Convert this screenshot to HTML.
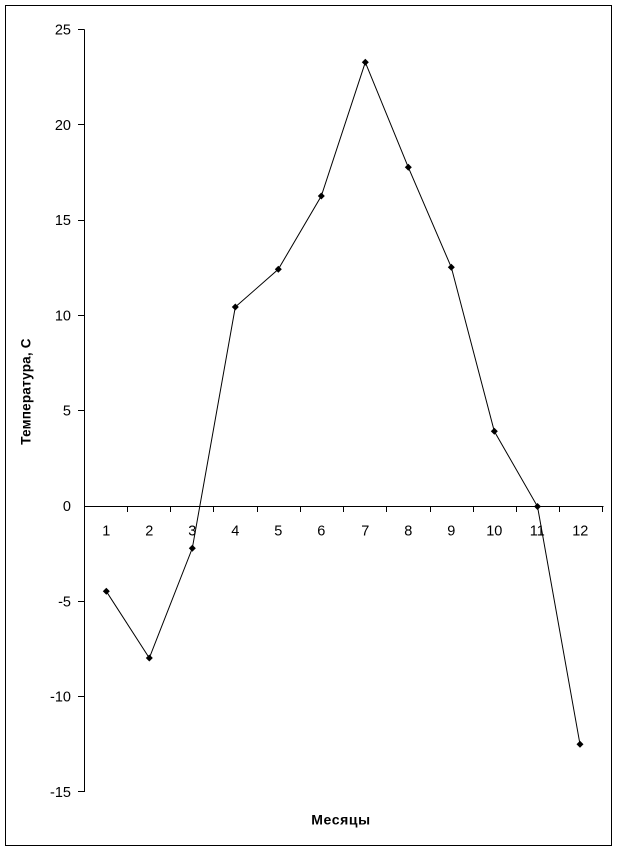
<!DOCTYPE html>
<html><head><meta charset="utf-8"><style>
html,body{margin:0;padding:0;background:#fff;}
svg{display:block;}
text{font-family:"Liberation Sans",Arial,sans-serif;fill:#000;}
</style></head><body>
<svg width="617" height="850" viewBox="0 0 617 850" xmlns="http://www.w3.org/2000/svg">
<rect x="0" y="0" width="617" height="850" fill="#fff"/>
<rect x="5.5" y="5.5" width="606" height="840" fill="none" stroke="#000" stroke-width="1" shape-rendering="crispEdges"/>
<g stroke="#000" stroke-width="1" shape-rendering="crispEdges">
<line x1="84.5" y1="29.5" x2="84.5" y2="792"/>
<line x1="78" y1="29.5" x2="84.5" y2="29.5"/>
<line x1="78" y1="124.5" x2="84.5" y2="124.5"/>
<line x1="78" y1="220.5" x2="84.5" y2="220.5"/>
<line x1="78" y1="315.5" x2="84.5" y2="315.5"/>
<line x1="78" y1="410.5" x2="84.5" y2="410.5"/>
<line x1="78" y1="601.5" x2="84.5" y2="601.5"/>
<line x1="78" y1="696.5" x2="84.5" y2="696.5"/>
<line x1="78" y1="791.5" x2="84.5" y2="791.5"/>
<line x1="84" y1="506.5" x2="603.5" y2="506.5"/>
<line x1="127.5" y1="506.5" x2="127.5" y2="512"/>
<line x1="170.5" y1="506.5" x2="170.5" y2="512"/>
<line x1="213.5" y1="506.5" x2="213.5" y2="512"/>
<line x1="257.5" y1="506.5" x2="257.5" y2="512"/>
<line x1="300.5" y1="506.5" x2="300.5" y2="512"/>
<line x1="343.5" y1="506.5" x2="343.5" y2="512"/>
<line x1="386.5" y1="506.5" x2="386.5" y2="512"/>
<line x1="430.5" y1="506.5" x2="430.5" y2="512"/>
<line x1="473.5" y1="506.5" x2="473.5" y2="512"/>
<line x1="516.5" y1="506.5" x2="516.5" y2="512"/>
<line x1="559.5" y1="506.5" x2="559.5" y2="512"/>
<line x1="602.5" y1="506.5" x2="602.5" y2="512"/>
</g>
<g font-size="14.5" text-anchor="end">
<text x="71" y="34.5">25</text>
<text x="71" y="130">20</text>
<text x="71" y="225">15</text>
<text x="71" y="320.5">10</text>
<text x="71" y="415.5">5</text>
<text x="71" y="511">0</text>
<text x="71" y="606.5">-5</text>
<text x="71" y="701.5">-10</text>
<text x="71" y="797">-15</text>
</g>
<g font-size="14.5" text-anchor="middle">
<text x="106.3" y="535.5">1</text>
<text x="149.3" y="535.5">2</text>
<text x="192.3" y="535.5">3</text>
<text x="235.3" y="535.5">4</text>
<text x="278.3" y="535.5">5</text>
<text x="321.3" y="535.5">6</text>
<text x="365.3" y="535.5">7</text>
<text x="408.3" y="535.5">8</text>
<text x="451.3" y="535.5">9</text>
<text x="494.3" y="535.5">10</text>
<text x="537.3" y="535.5">11</text>
<text x="580.3" y="535.5">12</text>
</g>
<text x="341" y="824.5" font-size="14" font-weight="bold" letter-spacing="0.6" text-anchor="middle">Месяцы</text>
<text transform="translate(30.5,391.5) rotate(-90)" font-size="13.5" font-weight="bold" letter-spacing="0.2" text-anchor="middle">Температура, С</text>
<polyline fill="none" stroke="#000" stroke-width="1" points="106.3,591.3 149.3,658 192.3,548.3 235.3,307 278.3,269.3 321.3,196 365.3,62.3 408.3,167.3 451.3,267.3 494.3,431.3 537.5,506.5 580,744.3"/>
<g fill="#000">
<path d="M106.3,587.8 L109.8,591.3 L106.3,594.8 L102.8,591.3Z"/>
<path d="M149.3,654.5 L152.8,658 L149.3,661.5 L145.8,658Z"/>
<path d="M192.3,544.8 L195.8,548.3 L192.3,551.8 L188.8,548.3Z"/>
<path d="M235.3,303.5 L238.8,307 L235.3,310.5 L231.8,307Z"/>
<path d="M278.3,265.8 L281.8,269.3 L278.3,272.8 L274.8,269.3Z"/>
<path d="M321.3,192.5 L324.8,196 L321.3,199.5 L317.8,196Z"/>
<path d="M365.3,58.8 L368.8,62.3 L365.3,65.8 L361.8,62.3Z"/>
<path d="M408.3,163.8 L411.8,167.3 L408.3,170.8 L404.8,167.3Z"/>
<path d="M451.3,263.8 L454.8,267.3 L451.3,270.8 L447.8,267.3Z"/>
<path d="M494.3,427.8 L497.8,431.3 L494.3,434.8 L490.8,431.3Z"/>
<path d="M537.5,503 L541,506.5 L537.5,510 L534,506.5Z"/>
<path d="M580,740.8 L583.5,744.3 L580,747.8 L576.5,744.3Z"/>
</g>
</svg>
</body></html>
